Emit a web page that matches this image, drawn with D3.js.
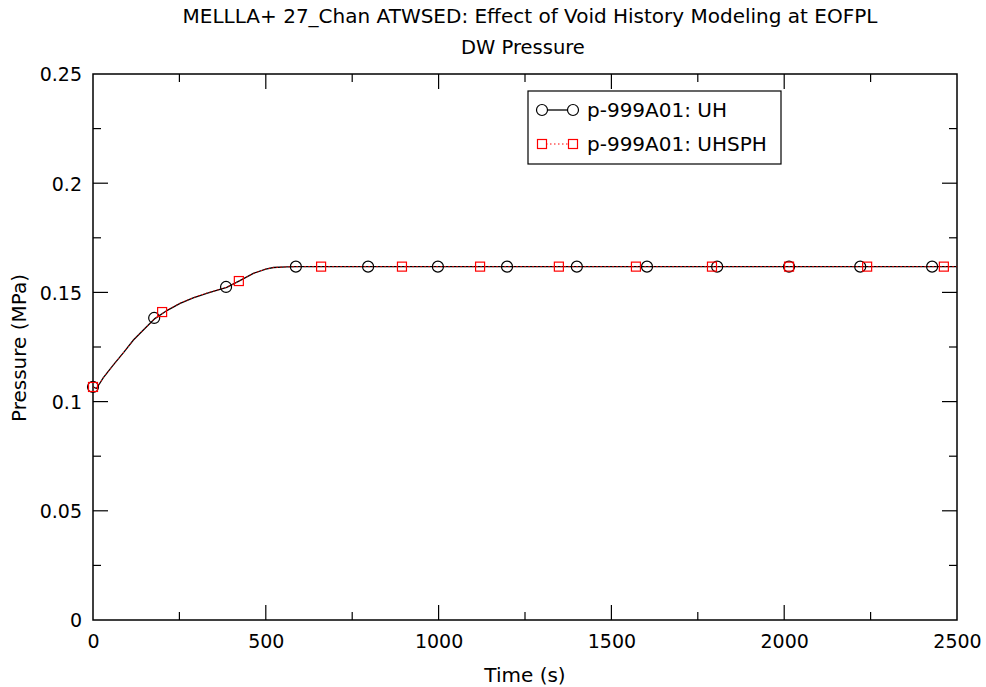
<!DOCTYPE html>
<html>
<head>
<meta charset="utf-8">
<script src="https://cdn.jsdelivr.net/npm/d3@7"></script>
<style>
  html, body { margin: 0; padding: 0; background: #fff; }
  svg { display: block; font-family: "DejaVu Sans", sans-serif; }
</style>
</head>
<body>
<svg id="chart" width="986" height="687"></svg>
<script>
// ---- data ----
const titleLines = ["MELLLA+ 27_Chan ATWSED: Effect of Void History Modeling at EOFPL", "DW Pressure"];
const xLabel = "Time (s)";
const yLabel = "Pressure (MPa)";
const seriesNames = ["p-999A01: UH", "p-999A01: UHSPH"];
const xTickValues = [0, 500, 1000, 1500, 2000, 2500];
const yTickValues = [0, 0.05, 0.1, 0.15, 0.2, 0.25];

// UH curve
const uhTime = [0, 10, 30, 59, 90, 117, 150, 179, 215, 252, 290, 329, 360, 387, 425, 464, 500, 522, 560, 590, 1000, 1500, 2000, 2500];
const uhValue = [0.1067, 0.106, 0.111, 0.1168, 0.1228, 0.1282, 0.1335, 0.138, 0.1418, 0.145, 0.1475, 0.1496, 0.151, 0.1523, 0.1554, 0.1587, 0.1607, 0.1614, 0.1617, 0.1618, 0.1618, 0.1618, 0.1618, 0.1618];
// UHSPH curve
const uhsphTime = [0, 10, 30, 59, 90, 117, 150, 179, 215, 252, 290, 329, 360, 387, 425, 464, 500, 522, 560, 590, 1000, 1500, 2000, 2500];
const uhsphValue = [0.1067, 0.106, 0.111, 0.1168, 0.1228, 0.1282, 0.1335, 0.138, 0.1419, 0.1451, 0.1476, 0.1497, 0.1511, 0.1524, 0.1554, 0.1587, 0.1607, 0.1614, 0.1617, 0.1618, 0.1618, 0.1618, 0.1618, 0.1618];
// markers
const uhMarkTime = [0, 177, 385, 587, 796, 998, 1198, 1400, 1603, 1806, 2014, 2220, 2428];
const uhMarkValue = [0.1067, 0.1383, 0.1525, 0.1618, 0.1618, 0.1618, 0.1618, 0.1618, 0.1618, 0.1618, 0.1618, 0.1618, 0.1618];
const uhsphMarkTime = [0, 200, 422, 660, 894, 1120, 1348, 1571, 1791, 2014, 2240, 2462];
const uhsphMarkValue = [0.1067, 0.141, 0.1552, 0.1618, 0.1618, 0.1618, 0.1618, 0.1618, 0.1618, 0.1618, 0.1618, 0.1618];

// ---- layout ----
const svg = d3.select("#chart");
const L = 93, R = 957, T = 74, B = 620;
const x = d3.scaleLinear().domain([0, 2500]).range([L, R]);
const y = d3.scaleLinear().domain([0, 0.25]).range([B, T]);

// frame
svg.append("rect").attr("x", L).attr("y", T).attr("width", R - L).attr("height", B - T)
  .attr("fill", "none").attr("stroke", "#000").attr("stroke-width", 1.5);

// ticks (inward, all four sides)
const xMinor = d3.range(0, 2501, 250);
const yMinor = d3.range(0, 0.2501, 0.025);
const tickG = svg.append("g").attr("stroke", "#000").attr("stroke-width", 1.2);
xMinor.forEach((v, i) => {
  const len = (i % 2 === 0) ? 15 : 8;
  if (v === 0 || v === 2500) return;
  tickG.append("line").attr("x1", x(v)).attr("x2", x(v)).attr("y1", B).attr("y2", B - len);
  tickG.append("line").attr("x1", x(v)).attr("x2", x(v)).attr("y1", T).attr("y2", T + len);
});
yMinor.forEach((v, i) => {
  const len = (i % 2 === 0) ? 15 : 8;
  if (i === 0 || i === yMinor.length - 1) return;
  tickG.append("line").attr("y1", y(v)).attr("y2", y(v)).attr("x1", L).attr("x2", L + len);
  tickG.append("line").attr("y1", y(v)).attr("y2", y(v)).attr("x1", R).attr("x2", R - len);
});

// tick labels via axes (no tick lines)
const xAxis = d3.axisBottom(x).tickValues(xTickValues).tickFormat(d3.format("d")).tickSize(0).tickPadding(0);
const gx = svg.append("g").attr("transform", `translate(0,${B})`).call(xAxis);
gx.select(".domain").remove();
gx.selectAll("text").attr("font-size", 19).attr("font-family", "DejaVu Sans").attr("fill", "#000")
  .attr("dy", null).attr("y", 28);

const yFmt = d => d === 0 ? "0" : d3.format("")(+d.toFixed(3));
const yAxis = d3.axisLeft(y).tickValues(yTickValues).tickFormat(yFmt).tickSize(0).tickPadding(0);
const gy = svg.append("g").attr("transform", `translate(${L},0)`).call(yAxis);
gy.select(".domain").remove();
gy.selectAll("text").attr("font-size", 19).attr("font-family", "DejaVu Sans").attr("fill", "#000")
  .attr("x", -11).attr("dy", "0.36em");

// titles
svg.append("text").attr("x", 530).attr("y", 23).attr("text-anchor", "middle")
  .attr("font-size", 20).text(titleLines[0]);
svg.append("text").attr("x", 523).attr("y", 54).attr("text-anchor", "middle")
  .attr("font-size", 19.5).text(titleLines[1]);
svg.append("text").attr("x", 525).attr("y", 682).attr("text-anchor", "middle")
  .attr("font-size", 20).text(xLabel);
svg.append("text").attr("transform", "translate(26,348) rotate(-90)").attr("text-anchor", "middle")
  .attr("font-size", 20).text(yLabel);

// lines
const lineUH = d3.line().x((d, i) => x(uhTime[i])).y(d => y(d));
const lineSPH = d3.line().x((d, i) => x(uhsphTime[i])).y(d => y(d));
svg.append("path").attr("d", lineUH(uhValue)).attr("fill", "none").attr("stroke", "#000").attr("stroke-width", 1.3);
svg.append("path").attr("d", lineSPH(uhsphValue)).attr("fill", "none").attr("stroke", "#ff0000")
  .attr("stroke-width", 1).attr("stroke-dasharray", "1.5,2.5");

// markers
svg.append("g").selectAll("circle").data(uhMarkValue).join("circle")
  .attr("cx", (d, i) => x(uhMarkTime[i])).attr("cy", d => y(d)).attr("r", 5.5)
  .attr("fill", "none").attr("stroke", "#000").attr("stroke-width", 1.2);
svg.append("g").selectAll("rect").data(uhsphMarkValue).join("rect")
  .attr("x", (d, i) => x(uhsphMarkTime[i]) - 4.5).attr("y", d => y(d) - 4.5)
  .attr("width", 9).attr("height", 9)
  .attr("fill", "none").attr("stroke", "#ff0000").attr("stroke-width", 1.2);

// legend
const lg = svg.append("g");
lg.append("rect").attr("x", 528).attr("y", 91).attr("width", 253).attr("height", 73)
  .attr("fill", "#fff").attr("stroke", "#000").attr("stroke-width", 1.2);
const ly = [110, 144];
lg.append("line").attr("x1", 542).attr("x2", 573).attr("y1", ly[0]).attr("y2", ly[0]).attr("stroke", "#000").attr("stroke-width", 1.3);
[542, 573].forEach(cx => lg.append("circle").attr("cx", cx).attr("cy", ly[0]).attr("r", 5.5)
  .attr("fill", "#fff").attr("stroke", "#000").attr("stroke-width", 1.2));
lg.append("line").attr("x1", 542).attr("x2", 573).attr("y1", ly[1]).attr("y2", ly[1]).attr("stroke", "#ff0000")
  .attr("stroke-width", 1).attr("stroke-dasharray", "1.5,2.5");
[542, 573].forEach(cx => lg.append("rect").attr("x", cx - 4.5).attr("y", ly[1] - 4.5).attr("width", 9).attr("height", 9)
  .attr("fill", "#fff").attr("stroke", "#ff0000").attr("stroke-width", 1.2));
seriesNames.forEach((n, i) => lg.append("text").attr("x", 587).attr("y", ly[i]).attr("dy", "0.36em")
  .attr("font-size", 20).text(n));
</script>
</body>
</html>
